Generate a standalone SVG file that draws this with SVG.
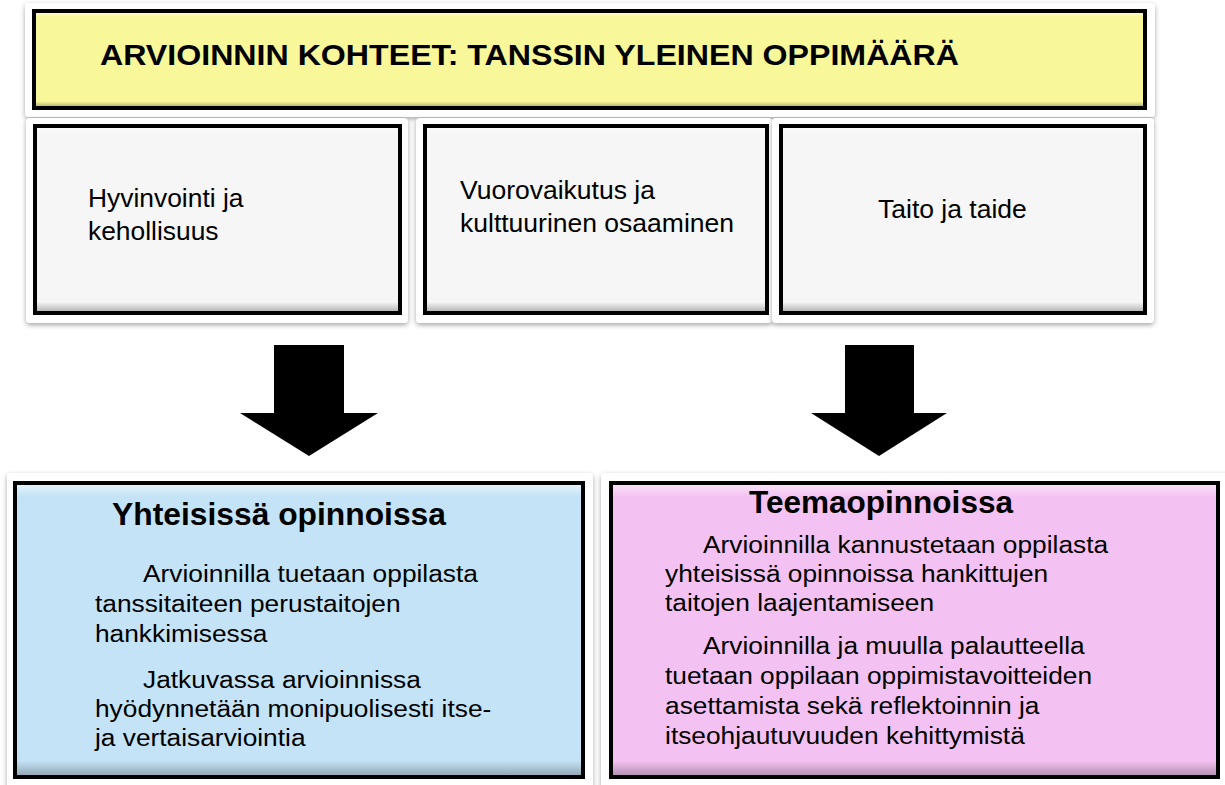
<svg xmlns="http://www.w3.org/2000/svg" width="1225" height="785" viewBox="0 0 1225 785">
<defs>
<filter id="sh" x="-5%" y="-5%" width="110%" height="115%">
<feDropShadow dx="0" dy="2" stdDeviation="2.5" flood-color="#000" flood-opacity="0.35"/>
</filter>
<linearGradient id="bev" x1="0" y1="0" x2="0" y2="1">
<stop offset="0" stop-color="#fff" stop-opacity="0.5"/>
<stop offset="0.04" stop-color="#fff" stop-opacity="0"/>
<stop offset="0.95" stop-color="#000" stop-opacity="0"/>
<stop offset="1" stop-color="#000" stop-opacity="0.25"/>
</linearGradient>
<style>
.card{fill:#fff;filter:url(#sh)}
.box{stroke:#000;stroke-width:4}
.t{font-family:"Liberation Sans",Arial,sans-serif;fill:#000}
.b{font-weight:bold}
.bev{fill:url(#bev);stroke:none}
</style>
</defs>
<rect width="1225" height="785" fill="#fff"/>

<g id="title">
<rect class="card" x="25" y="3" width="1130" height="114" rx="4"/>
<rect class="box" x="34" y="11" width="1111" height="97" fill="#F8F799"/>
<rect class="bev" x="36" y="13" width="1107" height="93"/>
<text class="t b" x="100" y="65" font-size="30" textLength="859" lengthAdjust="spacingAndGlyphs">ARVIOINNIN KOHTEET: TANSSIN YLEINEN OPPIMÄÄRÄ</text>
</g>

<g id="hyvinvointi">
<rect class="card" x="26" y="118" width="382" height="205" rx="4"/>
<rect class="box" x="35" y="126" width="365" height="187" fill="#F6F6F6"/>
<rect class="bev" x="37" y="128" width="361" height="183"/>
<text class="t" font-size="26.4"><tspan x="88" y="207">Hyvinvointi ja</tspan><tspan x="88" y="240">kehollisuus</tspan></text>
</g>

<g id="vuorovaikutus">
<rect class="card" x="416" y="118" width="356" height="205" rx="4"/>
<rect class="box" x="425" y="126" width="342" height="187" fill="#F6F6F6"/>
<rect class="bev" x="427" y="128" width="338" height="183"/>
<text class="t" font-size="26.5"><tspan x="460" y="199">Vuorovaikutus ja</tspan><tspan x="460" y="232">kulttuurinen osaaminen</tspan></text>
</g>

<g id="taito">
<rect class="card" x="772" y="118" width="382" height="205" rx="4"/>
<rect class="box" x="781" y="126" width="364" height="187" fill="#F6F6F6"/>
<rect class="bev" x="783" y="128" width="360" height="183"/>
<text class="t" x="878" y="218" font-size="26.5">Taito ja taide</text>
</g>

<g id="connectors" fill="#000">
<polygon points="274,345 344,345 344,413 378,413 309,456 240,413 274,413"/>
<polygon points="845,345 914,345 914,413 947,413 879,456 811,413 845,413"/>
</g>

<g id="yhteisissa">
<rect class="card" x="7" y="473" width="586" height="330" rx="4"/>
<rect class="box" x="15" y="483" width="568" height="294" fill="#C5E3F6"/>
<rect class="bev" x="17" y="485" width="564" height="290"/>
<text class="t b" x="112" y="525" font-size="30.5" textLength="334" lengthAdjust="spacingAndGlyphs">Yhteisissä opinnoissa</text>
<g transform="scale(1.12 1)">
<text class="t" font-size="23.5">
<tspan x="127.7" y="582">Arvioinnilla tuetaan oppilasta</tspan>
<tspan x="84.8" y="612">tanssitaiteen perustaitojen</tspan>
<tspan x="84.8" y="642">hankkimisessa</tspan>
<tspan x="127.7" y="688">Jatkuvassa arvioinnissa</tspan>
<tspan x="84.8" y="717">hyödynnetään monipuolisesti itse-</tspan>
<tspan x="84.8" y="746">ja vertaisarviointia</tspan>
</text>
</g>
</g>

<g id="teema">
<rect class="card" x="601" y="473" width="640" height="330" rx="4"/>
<rect class="box" x="611" y="483" width="607" height="294" fill="#F4C2F2"/>
<rect class="bev" x="613" y="485" width="603" height="290"/>
<text class="t b" x="749" y="513" font-size="30.5" textLength="264" lengthAdjust="spacingAndGlyphs">Teemaopinnoissa</text>
<g transform="scale(1.12 1)">
<text class="t" font-size="23.5">
<tspan x="627.7" y="553">Arvioinnilla kannustetaan oppilasta</tspan>
<tspan x="593.8" y="582">yhteisissä opinnoissa hankittujen</tspan>
<tspan x="593.8" y="611">taitojen laajentamiseen</tspan>
<tspan x="627.7" y="654">Arvioinnilla ja muulla palautteella</tspan>
<tspan x="593.8" y="684">tuetaan oppilaan oppimistavoitteiden</tspan>
<tspan x="593.8" y="714">asettamista sekä reflektoinnin ja</tspan>
<tspan x="593.8" y="744">itseohjautuvuuden kehittymistä</tspan>
</text>
</g>
</g>
</svg>
